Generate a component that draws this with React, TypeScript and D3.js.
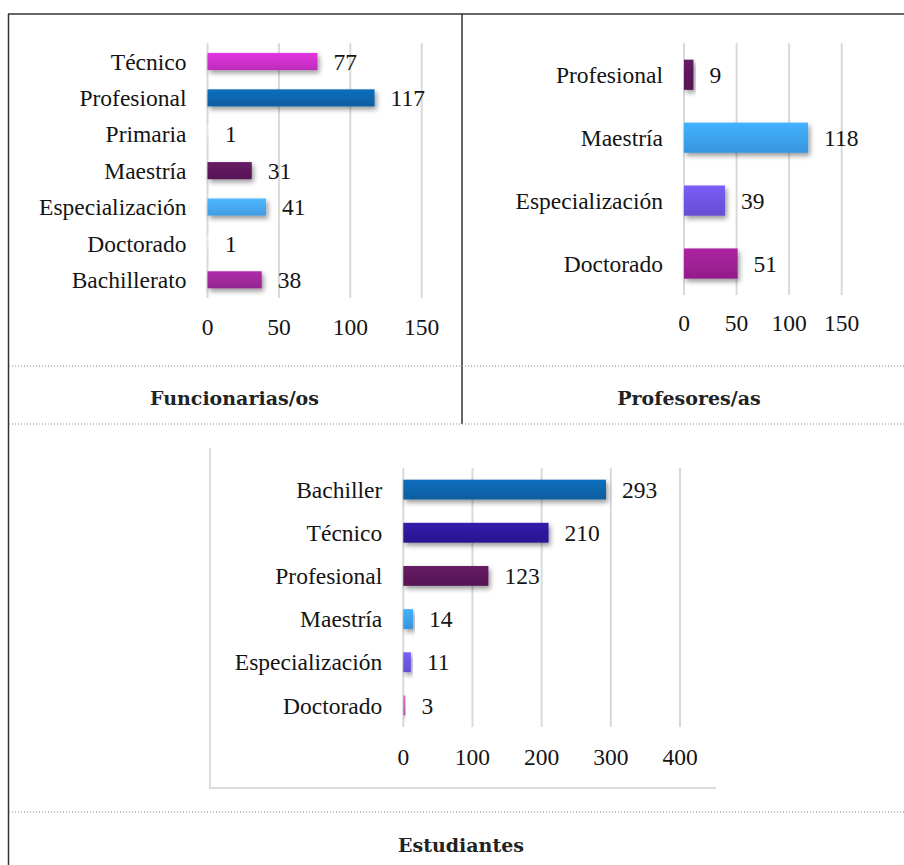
import React from "react";
import * as d3 from "d3";

// Funcionarias/os by education level
const funcCategories = ["Técnico", "Profesional", "Primaria", "Maestría", "Especialización", "Doctorado", "Bachillerato"];
const funcValues = [77, 117, 1, 31, 41, 1, 38];
const funcColors = ["#c82ec6", "#0f62a8", "#efe9ef", "#5a1858", "#45a3ee", "#efe9ef", "#9b2897"];
const funcTicks = [0, 50, 100, 150];

// Profesores/as by education level
const profCategories = ["Profesional", "Maestría", "Especialización", "Doctorado"];
const profValues = [9, 118, 39, 51];
const profColors = ["#5a1858", "#3a9dea", "#6c52dc", "#992090"];
const profTicks = [0, 50, 100, 150];

// Estudiantes by education level
const estCategories = ["Bachiller", "Técnico", "Profesional", "Maestría", "Especialización", "Doctorado"];
const estValues = [293, 210, 123, 14, 11, 3];
const estColors = ["#0f62a8", "#2c1896", "#5a1858", "#3a9dea", "#6c52dc", "#c060b8"];
const estTicks = [0, 100, 200, 300, 400];

const panelTitles = ["Funcionarias/os", "Profesores/as", "Estudiantes"];

const SERIF = "'Liberation Serif', 'Times New Roman', serif";
const CAPTION = "'DejaVu Serif', serif";

type PanelProps = {
  id: string;
  categories: string[];
  values: number[];
  colors: string[];
  ticks: number[];
  x0: number;
  x1: number;
  y0: number;
  y1: number;
  padding: number;
  tickY: number;
};

function BarPanel(p: PanelProps) {
  const max = p.ticks[p.ticks.length - 1];
  const x = d3.scaleLinear().domain([0, max]).range([p.x0, p.x1]);
  const y = d3.scaleBand<string>().domain(p.categories).range([p.y0, p.y1]).paddingInner(p.padding).paddingOuter(p.padding / 2);
  const fs = 23.5;
  return (
    <g>
      <defs>
        {p.colors.map((c, i) => {
          const col = d3.color(c)!;
          return (
            <linearGradient key={i} id={`${p.id}-g${i}`} x1="0" y1="0" x2="0" y2="1">
              <stop offset="0" stopColor={col.brighter(0.35).formatHex()} />
              <stop offset="1" stopColor={col.darker(0.15).formatHex()} />
            </linearGradient>
          );
        })}
      </defs>
      {p.ticks.map((t) => (
        <line key={t} x1={x(t)} x2={x(t)} y1={p.y0} y2={p.y1} stroke="#d9d9d9" strokeWidth={2} />
      ))}
      {p.categories.map((c, i) => {
        const yy = y(c)!;
        const bw = y.bandwidth();
        const v = p.values[i];
        return (
          <g key={c}>
            <rect
              x={x(0)}
              y={yy}
              width={x(v) - x(0)}
              height={bw}
              fill={`url(#${p.id}-g${i})`}
              filter={v > 2 ? "url(#barShadow)" : undefined}
            />
            <text
              x={p.x0 - 21}
              y={yy + bw / 2}
              dy="0.35em"
              textAnchor="end"
              fontFamily={SERIF}
              fontSize={fs}
              fill="#141414"
            >
              {c}
            </text>
            <text
              x={x(v) + 16}
              y={yy + bw / 2}
              dy="0.35em"
              fontFamily={SERIF}
              fontSize={fs}
              fill="#141414"
            >
              {v}
            </text>
          </g>
        );
      })}
      {p.ticks.map((t) => (
        <text
          key={`t${t}`}
          x={x(t)}
          y={p.tickY}
          dy="0.35em"
          textAnchor="middle"
          fontFamily={SERIF}
          fontSize={fs}
          fill="#141414"
        >
          {t}
        </text>
      ))}
    </g>
  );
}

export default function App() {
  const W = 904;
  const H = 865;
  return (
    <svg
      width={W}
      height={H}
      viewBox={`0 0 ${W} ${H}`}
      style={{ position: "absolute", left: 0, top: 0, background: "#fff" }}
    >
      <defs>
        <filter id="barShadow" x="-10%" y="-40%" width="130%" height="200%">
          <feDropShadow dx="2" dy="3" stdDeviation="2.5" floodColor="#000" floodOpacity="0.4" />
        </filter>
      </defs>
      <rect width={W} height={H} fill="#fff" />

      {/* table frame */}
      <line x1={8} x2={W} y1={14} y2={14} stroke="#333" strokeWidth={1.5} />
      <line x1={8.5} x2={8.5} y1={14} y2={H} stroke="#333" strokeWidth={1.5} />
      <line x1={462} x2={462} y1={14} y2={424} stroke="#333" strokeWidth={1.5} />
      {[366, 424, 812].map((yy) => (
        <line key={yy} x1={9} x2={W} y1={yy} y2={yy} stroke="#888" strokeWidth={1} strokeDasharray="1 2" />
      ))}

      <BarPanel
        id="func"
        categories={funcCategories}
        values={funcValues}
        colors={funcColors}
        ticks={funcTicks}
        x0={207.5}
        x1={421.7}
        y0={43.3}
        y1={298}
        padding={0.53}
        tickY={327}
      />
      <BarPanel
        id="prof"
        categories={profCategories}
        values={profValues}
        colors={profColors}
        ticks={profTicks}
        x0={684}
        x1={841.7}
        y0={43.3}
        y1={295}
        padding={0.52}
        tickY={323}
      />

      {/* bottom chart frame */}
      <line x1={210} x2={210} y1={448} y2={788} stroke="#dcdcdc" strokeWidth={2} />
      <line x1={209} x2={716} y1={788} y2={788} stroke="#dcdcdc" strokeWidth={2} />
      <BarPanel
        id="est"
        categories={estCategories}
        values={estValues}
        colors={estColors}
        ticks={estTicks}
        x0={403.3}
        x1={680}
        y0={468}
        y1={727}
        padding={0.54}
        tickY={757}
      />

      {[
        { t: panelTitles[0], x: 234.5, y: 398 },
        { t: panelTitles[1], x: 689, y: 398 },
        { t: panelTitles[2], x: 461, y: 845 },
      ].map((c) => (
        <text
          key={c.t}
          x={c.x}
          y={c.y}
          dy="0.35em"
          textAnchor="middle"
          fontFamily={CAPTION}
          fontWeight="bold"
          fontSize={19}
          fill="#222"
        >
          {c.t}
        </text>
      ))}
    </svg>
  );
}
